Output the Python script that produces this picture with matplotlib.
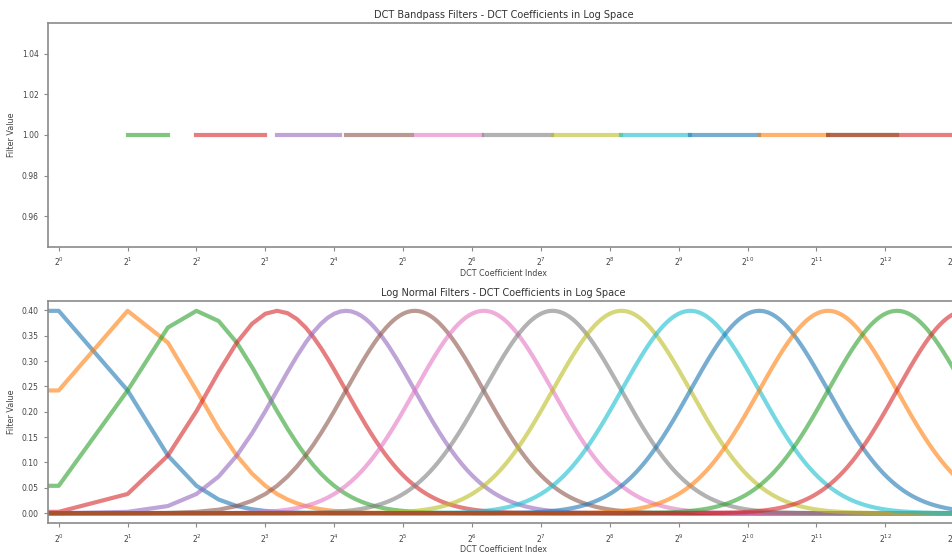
import numpy as np
import matplotlib
matplotlib.use("Agg")
import matplotlib.pyplot as plt
from matplotlib.ticker import LogFormatterSciNotation

# filter layout
n_coeffs = 8640
filter_centers = [1, 2, 4, 9, 18, 36, 72, 144, 288, 576, 1152, 2304, 4608, 9216]
filter_sigma = 1.0      # width in octaves
filter_peak = 0.399
band_starts = [0, 1, 2, 4, 9, 18, 36, 72, 144, 288, 576, 1152, 2304, 2304]
band_ends = [0, 1, 3, 8, 17, 35, 71, 143, 287, 575, 1151, 2303, 4607, 8639]
x_ticks = [2 ** i for i in range(14)]

x_lim = (0.895, 8630)
tick_size = 5.5
label_size = 5.8
title_size = 7
spine_col = "#8a8a8a"
text_col = "#444444"


def style_axes(ax, title):
    ax.set_xscale("log", base=2)
    ax.set_xticks(x_ticks)
    ax.xaxis.set_major_formatter(LogFormatterSciNotation(base=2))
    ax.set_xlim(*x_lim)
    ax.set_title(title, fontsize=title_size, color="#333333", pad=3.5)
    ax.set_xlabel("DCT Coefficient Index", fontsize=label_size,
                  color=text_col, labelpad=0.5)
    ax.set_ylabel("Filter Value", fontsize=label_size, color=text_col,
                  labelpad=4)
    ax.tick_params(labelsize=tick_size, colors=spine_col, labelcolor=text_col,
                   length=3, width=0.8)
    ax.minorticks_off()
    for sp in ax.spines.values():
        sp.set_color(spine_col)
        sp.set_linewidth(1.2)


fig = plt.figure(figsize=(9.52, 5.54), dpi=100)
ax1 = fig.add_axes([0.0501, 0.5547, 0.9576, 0.4033])
ax2 = fig.add_axes([0.0501, 0.0554, 0.9576, 0.4018])

for s, e in zip(band_starts, band_ends):
    idx = np.arange(s, e + 1)
    ax1.plot(idx, np.ones(len(idx)), lw=3, alpha=0.6)
style_axes(ax1, "DCT Bandpass Filters - DCT Coefficients in Log Space")
ax1.set_yticks([0.96, 0.98, 1.00, 1.02, 1.04])

k = np.arange(n_coeffs)
logk = np.log2(np.maximum(k, 1))
for c in filter_centers:
    vals = filter_peak * np.exp(-0.5 * ((logk - np.log2(c)) / filter_sigma) ** 2)
    ax2.plot(k, vals, lw=3, alpha=0.6)
style_axes(ax2, "Log Normal Filters - DCT Coefficients in Log Space")
ax2.set_yticks(np.arange(0, 0.41, 0.05))

fig.savefig("out.png", dpi=100)
